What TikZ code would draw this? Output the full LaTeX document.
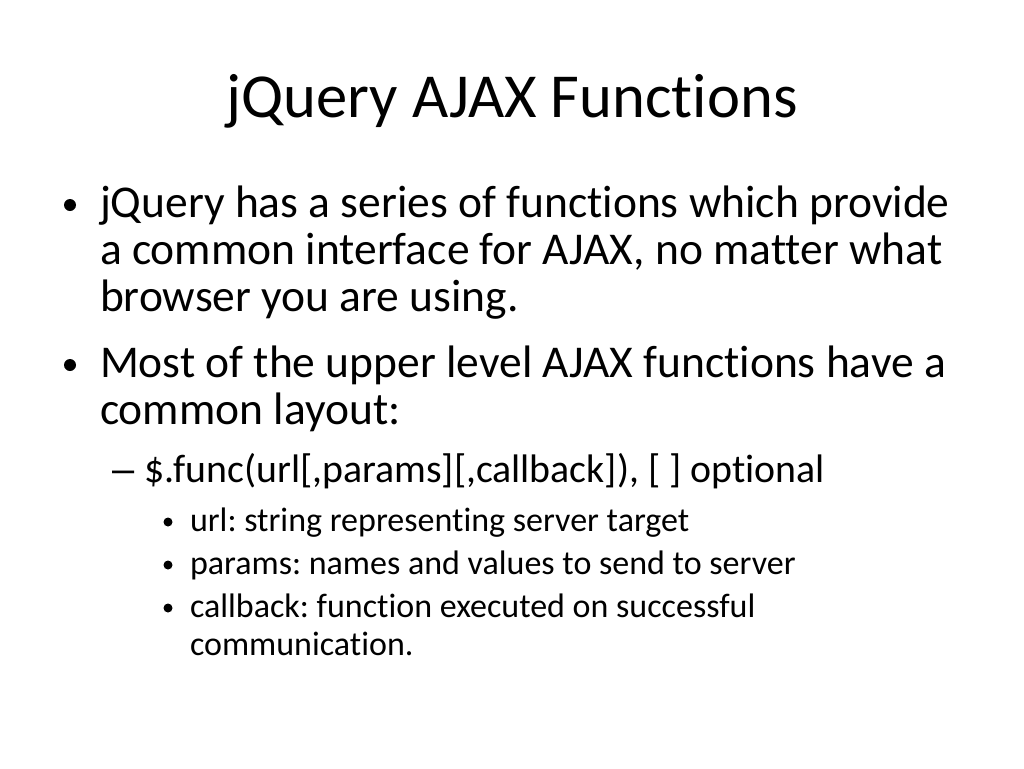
\documentclass[tikz,border=0pt]{standalone}
\usepackage{fontspec}
\setmainfont{Carlito}[Ligatures={NoCommon}, RawFeature={-liga;-clig;-dlig}]
\newfontfamily\dashfont{Liberation Sans}
\frenchspacing
\begin{document}
\begin{tikzpicture}[x=1pt,y=-1pt,
  every node/.style={inner sep=0pt,outer sep=0pt,text=black},
  titletxt/.style={anchor=base,font=\fontsize{62.6}{66}\selectfont},
  lvlone/.style={anchor=base west,font=\fontsize{45.5}{48}\selectfont},
  lvltwo/.style={anchor=base west,font=\fontsize{39.8}{42}\selectfont},
  lvlthree/.style={anchor=base west,font=\fontsize{34}{36}\selectfont},
  bigdot/.style={circle,fill=black,draw=none,minimum width=12pt,minimum height=12pt},
  smalldot/.style={circle,fill=black,draw=none,minimum width=9pt,minimum height=9pt}]
\fill[white] (0,0) rectangle (1024,768);
\useasboundingbox (0,0) rectangle (1024,768);
\node[titletxt] (title) at (512,117) {jQuery AJAX Functions};
\node[bigdot] (b1) at (70,205) {};
\node[lvlone] (t1a) at (100,217) {jQuery has a series of functions which provide};
\node[lvlone] (t1b) at (100,264) {a common interface for AJAX, no matter what};
\node[lvlone] (t1c) at (100,311) {browser you are using.};
\node[bigdot] (b2) at (70,365) {};
\node[lvlone] (t2a) at (100,377) {Most of the upper level AJAX functions have a};
\node[lvlone] (t2b) at (100,424) {common layout:};
\node[lvltwo,font=\dashfont\fontsize{39.8}{42}\selectfont] (d1) at (112,482) {–};
\node[lvltwo] (t3) at (144,482) {\$.func(url[,params][,callback]), [ ] optional};
\node[smalldot] (b3) at (168,522) {};
\node[lvlthree] (t4) at (190,531) {url: string representing server target};
\node[smalldot] (b4) at (168,565) {};
\node[lvlthree] (t5) at (190,574) {params: names and values to send to server};
\node[smalldot] (b5) at (168,608) {};
\node[lvlthree] (t6a) at (190,617) {callback: function executed on successful};
\node[lvlthree] (t6b) at (190,655) {communication.};
\end{tikzpicture}
\end{document}
